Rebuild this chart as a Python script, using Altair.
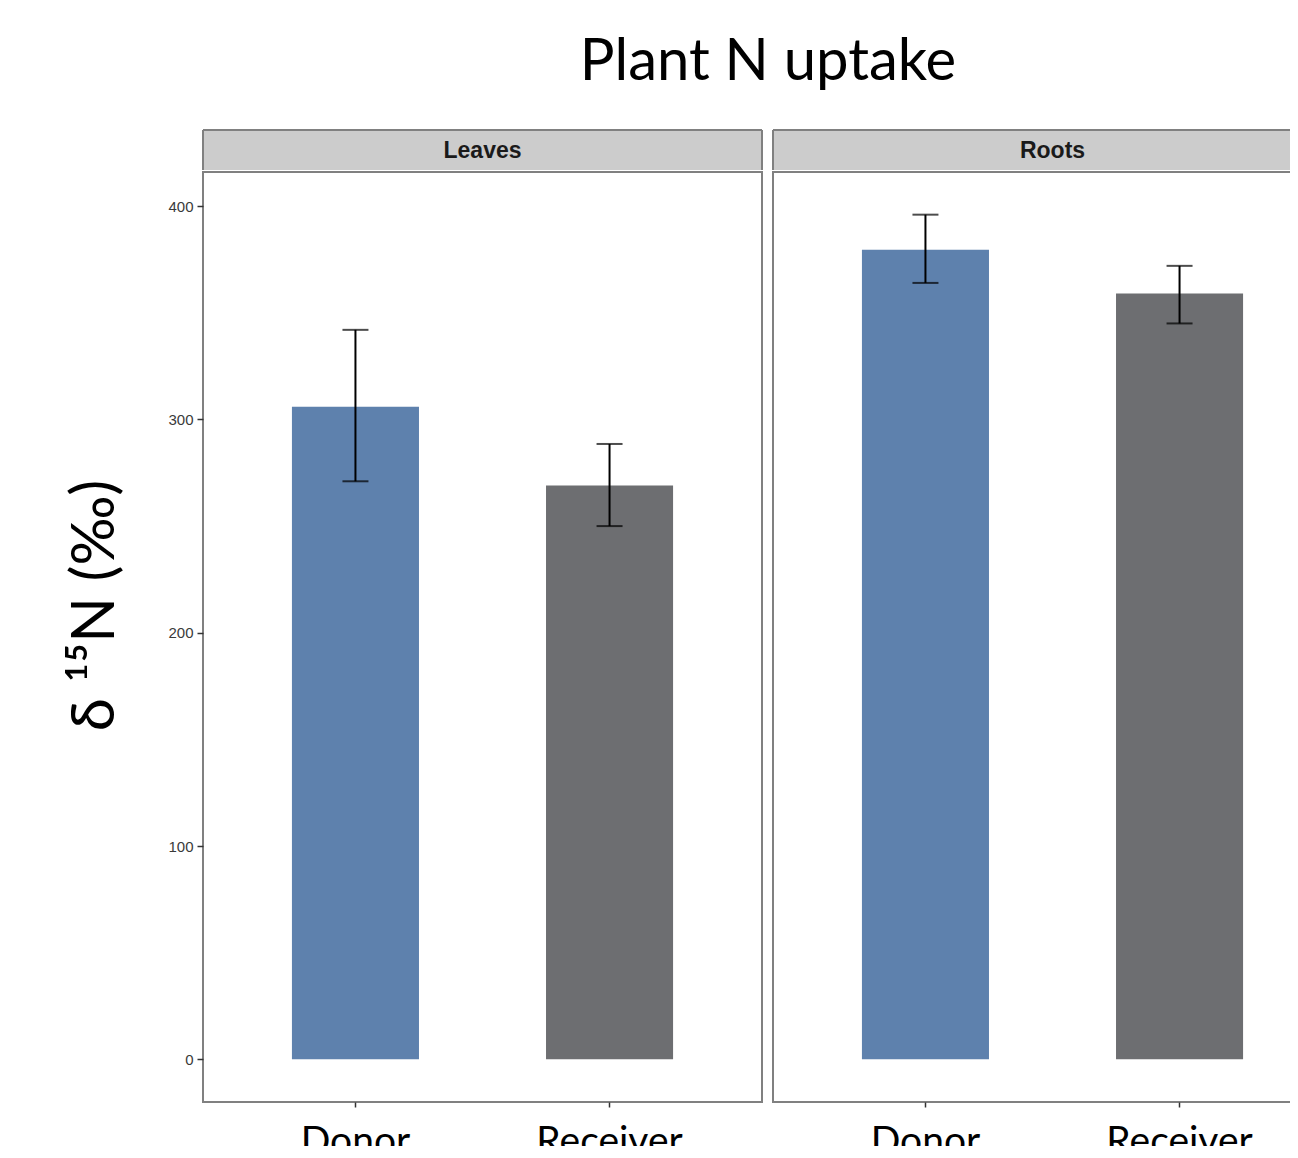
import altair as alt
import pandas as pd

tissue = ["Leaves", "Leaves", "Roots", "Roots"]
plant = ["Donor", "Receiver", "Donor", "Receiver"]
mean = [306, 269, 379.5, 359]
lo = [271, 250, 364, 345]
hi = [342, 288.5, 396, 372]

plant_order = ["Donor", "Receiver"]
colors = ["#5E81AD", "#6D6E71"]
y_ticks = [0, 100, 200, 300, 400]

df = pd.DataFrame({"tissue": tissue, "plant": plant, "mean": mean, "lo": lo, "hi": hi})

W, H, SH = 559, 930, 40
BORDER = "#808080"


def panel(name, show_y):
    d = df[df.tissue == name]
    base = alt.Chart(d)
    x = alt.X(
        "plant:N",
        sort=plant_order,
        scale=alt.Scale(paddingInner=0.5, paddingOuter=0.35),
        axis=alt.Axis(
            title=None, labelFontSize=39, labelFont="Lato", labelColor="black",
            labelAngle=0, tickSize=5, tickColor="#333333", tickWidth=1.5,
            domain=False, labelPadding=15,
        ),
    )
    yscale = alt.Scale(domain=[-20, 416], nice=False, zero=False)
    if show_y:
        yaxis = alt.Axis(
            values=y_ticks, labelFontSize=15, labelFont="Liberation Sans",
            labelColor="#3A3A3A", tickSize=6, tickColor="#333333", tickWidth=1.5,
            labelPadding=4, domain=False, grid=False, title="δ ¹⁵N (‰)",
            titleFontSize=60, titleFont="Lato", titleFontWeight="normal",
            titleColor="black", titleX=-77, titleY=433, titleAlign="center",
            titleBaseline="bottom", titleAngle=270,
        )
    else:
        yaxis = None
    bars = base.mark_bar().encode(
        x=x,
        y=alt.Y("mean:Q", scale=yscale, axis=yaxis),
        color=alt.Color("plant:N", scale=alt.Scale(domain=plant_order, range=colors), legend=None),
    )
    rule = base.mark_rule(color="black", strokeWidth=2).encode(
        x=x, y=alt.Y("lo:Q", scale=yscale), y2="hi:Q"
    )
    cap_hi = base.mark_tick(color="black", thickness=2, size=26, orient="horizontal").encode(
        x=x, y=alt.Y("hi:Q", scale=yscale)
    )
    cap_lo = base.mark_tick(color="black", thickness=2, size=26, orient="horizontal").encode(
        x=x, y=alt.Y("lo:Q", scale=yscale)
    )
    plot = alt.layer(bars, rule, cap_hi, cap_lo).properties(
        width=W, height=H, view=alt.ViewBackground(stroke=BORDER, strokeWidth=2)
    )

    sdata = pd.DataFrame({"t": [name]})
    sbase = alt.Chart(sdata)
    srect = sbase.mark_rect(fill="#CCCCCC").encode(
        x=alt.value(0), x2=alt.value(W), y=alt.value(0), y2=alt.value(SH)
    )
    stop = sbase.mark_rule(color=BORDER, strokeWidth=2).encode(
        x=alt.value(0), x2=alt.value(W), y=alt.value(0)
    )
    sleft = sbase.mark_rule(color=BORDER, strokeWidth=2).encode(
        x=alt.value(0), y=alt.value(0), y2=alt.value(SH)
    )
    sright = sbase.mark_rule(color=BORDER, strokeWidth=2).encode(
        x=alt.value(W), y=alt.value(0), y2=alt.value(SH)
    )
    stext = sbase.mark_text(
        font="Liberation Sans", fontSize=23, fontWeight="bold", color="#1A1A1A",
        align="center", baseline="middle",
    ).encode(x=alt.value(W / 2), y=alt.value(SH / 2 + 1), text="t:N")
    strip = alt.layer(srect, stop, sleft, sright, stext).properties(
        width=W, height=SH, view=alt.ViewBackground(strokeWidth=0)
    )
    return alt.vconcat(strip, plot, spacing=0)


chart = alt.hconcat(
    panel("Leaves", True), panel("Roots", False), spacing=9
).properties(
    title=alt.TitleParams(
        "Plant N uptake", fontSize=58, font="Lato", fontWeight="normal",
        color="black", anchor="middle", offset=37.5, dx=69.5,
    ),
    background="white",
    padding={"left": 56, "top": 25, "right": -43, "bottom": -16},
).configure_view(strokeWidth=0)

chart.save("out.html", embed_options={"renderer": "svg", "actions": False})
